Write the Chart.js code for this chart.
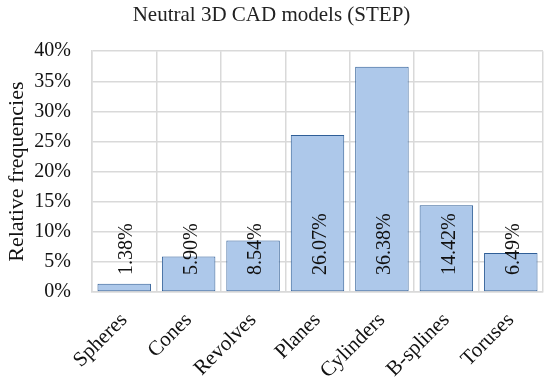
<!DOCTYPE html>
<html>
<head>
<meta charset="utf-8">
<script src="https://cdn.jsdelivr.net/npm/chart.js@4/dist/chart.umd.min.js"></script>
<style>
  html, body { margin: 0; padding: 0; background: #fff; }
  #wrap { width: 550px; height: 385px; }
</style>
</head>
<body>
<div id="wrap"><canvas id="chart"></canvas></div>
<script>
// surface types and their relative frequencies (%)
const categories = ['Spheres', 'Cones', 'Revolves', 'Planes', 'Cylinders', 'B-splines', 'Toruses'];
const frequencies = [1.38, 5.90, 8.54, 26.07, 37.4, 14.42, 6.49];
const valueLabels = ['1.38%', '5.90%', '8.54%', '26.07%', '36.38%', '14.42%', '6.49%'];
const yTicks = [0, 5, 10, 15, 20, 25, 30, 35, 40];

const SERIF = '"Liberation Serif", "DejaVu Serif", serif';

// vertical value labels drawn from the bar base upwards
const barLabels = {
  id: 'barLabels',
  afterDatasetsDraw(chart) {
    const { ctx } = chart;
    const yScale = chart.scales.y;
    const base = yScale.getPixelForValue(0);
    chart.getDatasetMeta(0).data.forEach((bar, i) => {
      ctx.save();
      ctx.translate(bar.x + 3, base - 17);
      ctx.rotate(-Math.PI / 2);
      ctx.font = '20px ' + SERIF;
      ctx.fillStyle = '#111';
      ctx.textAlign = 'left';
      ctx.textBaseline = 'middle';
      ctx.fillText(valueLabels[i], 0, 0);
      ctx.restore();
    });
  }
};

new Chart(document.getElementById('chart'), {
  type: 'bar',
  data: {
    labels: categories,
    datasets: [{
      data: frequencies,
      backgroundColor: '#adc8ea',
      borderColor: '#2f5e97',
      borderWidth: 1,
      borderSkipped: false,
      categoryPercentage: 1,
      barPercentage: 0.83,
    }],
  },
  options: {
    responsive: true,
    maintainAspectRatio: false,
    animation: false,
    layout: { padding: { left: 0, right: 7, top: 0, bottom: 0 } },
    plugins: {
      legend: { display: false },
      tooltip: { enabled: false },
      title: {
        display: true,
        text: 'Neutral 3D CAD models (STEP)',
        color: '#222',
        font: { family: SERIF, size: 21, weight: 'normal' },
        padding: { top: 3, bottom: 23 },
      },
    },
    scales: {
      x: {
        grid: { color: '#d9d9d9', lineWidth: 1.5, drawTicks: false, offset: true },
        border: { color: '#d9d9d9', width: 1.5 },
        ticks: {
          color: '#111',
          font: { family: SERIF, size: 21 },
          minRotation: 45,
          maxRotation: 45,
          padding: 16,
          autoSkip: false,
        },
        afterFit(scale) { scale.height = 93; },
      },
      y: {
        min: 0,
        max: 40,
        afterBuildTicks(scale) { scale.ticks = yTicks.map(v => ({ value: v })); },
        grid: { color: '#d9d9d9', lineWidth: 1.5, drawTicks: false },
        border: { color: '#d9d9d9', width: 1.5 },
        ticks: {
          color: '#111',
          font: { family: SERIF, size: 20 },
          padding: 21,
          callback: v => v + '%',
        },
        title: {
          display: true,
          text: 'Relative frequencies',
          color: '#111',
          font: { family: SERIF, size: 22 },
          padding: { top: 4, bottom: 0 },
        },
        afterFit(scale) { scale.width = 92; },
      },
    },
  },
  plugins: [barLabels],
});
</script>
</body>
</html>
